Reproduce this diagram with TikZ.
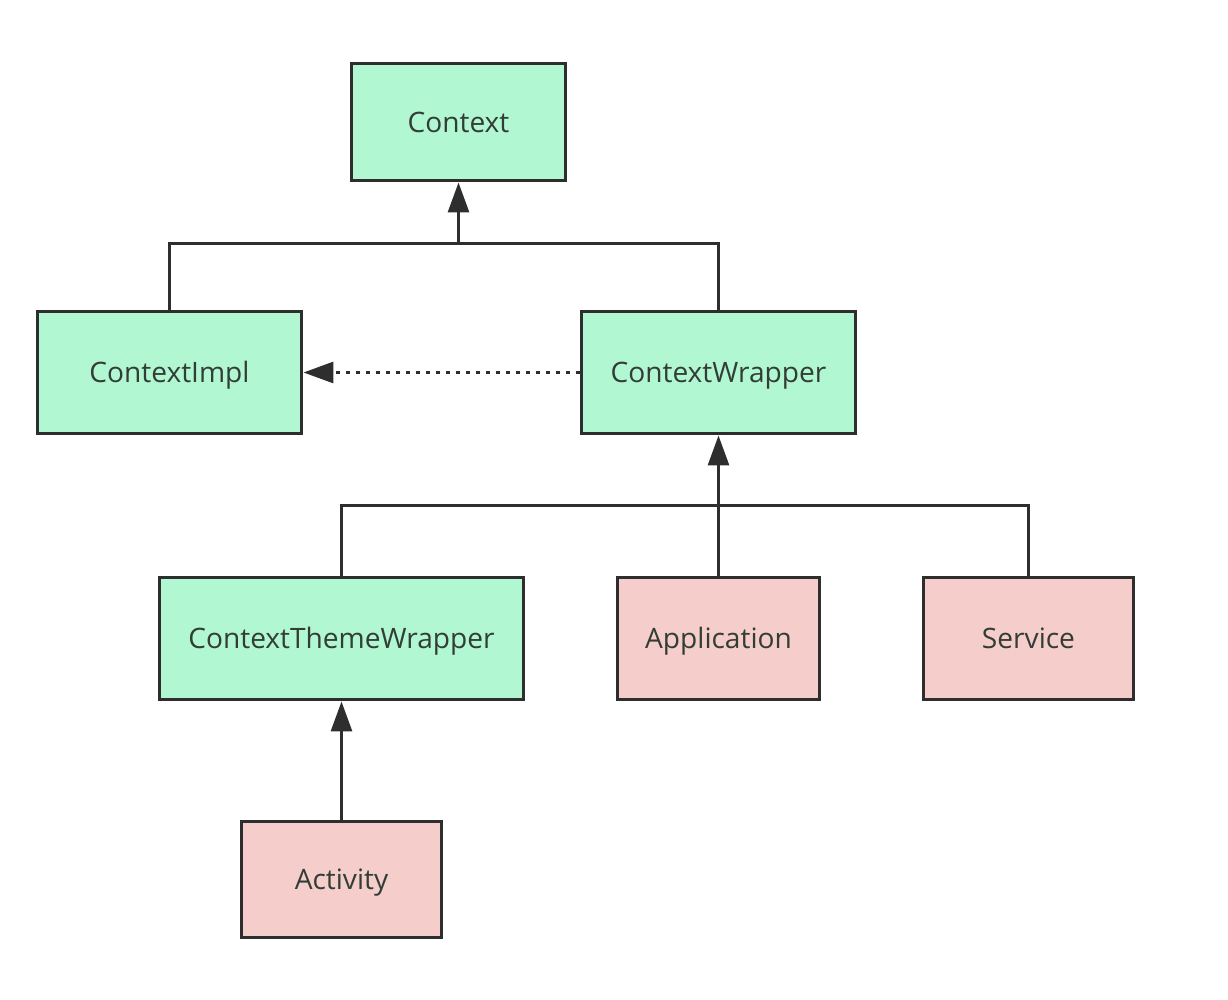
\documentclass[tikz,border=0pt]{standalone}
\usepackage{fontspec}
\setmainfont{Open Sans}
\usetikzlibrary{arrows.meta}
\definecolor{boxgreen}{HTML}{B0F7D2}
\definecolor{boxpink}{HTML}{F5CDCB}
\definecolor{edge}{HTML}{2E2E2E}
\definecolor{txt}{HTML}{333D37}
\begin{document}
\begin{tikzpicture}[x=0.02cm,y=-0.02cm,
  cls/.style={draw=edge,line width=0.06cm,minimum height=2.4cm,inner sep=0pt,
    font=\fontsize{16}{19}\selectfont,text=txt,anchor=center,
    text height=11.5pt,text depth=0pt},
  gbox/.style={cls,fill=boxgreen},
  pbox/.style={cls,fill=boxpink},
  link/.style={draw=edge,line width=0.06cm},
  inh/.style={link,-{Triangle[length=0.6cm,width=0.42cm]}},
  dep/.style={link,dash pattern=on 0.08cm off 0.12cm,-{Triangle[length=0.6cm,width=0.42cm]}}]
\useasboundingbox (0,0) rectangle (1228,1000);
\fill[white] (0,0) rectangle (1228,1000);
\node[gbox,minimum width=4.3cm,minimum height=2.36cm] (ctx) at (458.5,122) {Context};
\node[gbox,minimum width=5.3cm,minimum height=2.46cm] (impl) at (169.5,372.5) {ContextImpl};
\node[gbox,minimum width=5.5cm,minimum height=2.46cm] (wrap) at (718.5,372.5) {ContextWrapper};
\node[gbox,minimum width=7.3cm,minimum height=2.46cm] (theme) at (341.5,638.5) {ContextThemeWrapper};
\node[pbox,minimum width=4.06cm,minimum height=2.46cm] (app) at (718.5,638.5) {Application};
\node[pbox,minimum width=4.22cm,minimum height=2.46cm] (svc) at (1028.5,638.5) {Service};
\node[pbox,minimum width=4.02cm,minimum height=2.34cm] (act) at (341.5,879.5) {Activity};
\coordinate (j1) at (458.5,244);
\coordinate (j2) at (718.5,505);
% first level
\draw[link] (impl.north) |- (j1) -| (wrap.north);
\draw[inh] (j1) -- (ctx.south);
% second level
\draw[link] (theme.north) |- (j2) -| (svc.north);
\draw[inh] (app.north) -- (wrap.south);
\draw[inh] (act.north) -- (theme.south);
% dependency
\draw[dep] (wrap.west) -- (impl.east);
\end{tikzpicture}
\end{document}
